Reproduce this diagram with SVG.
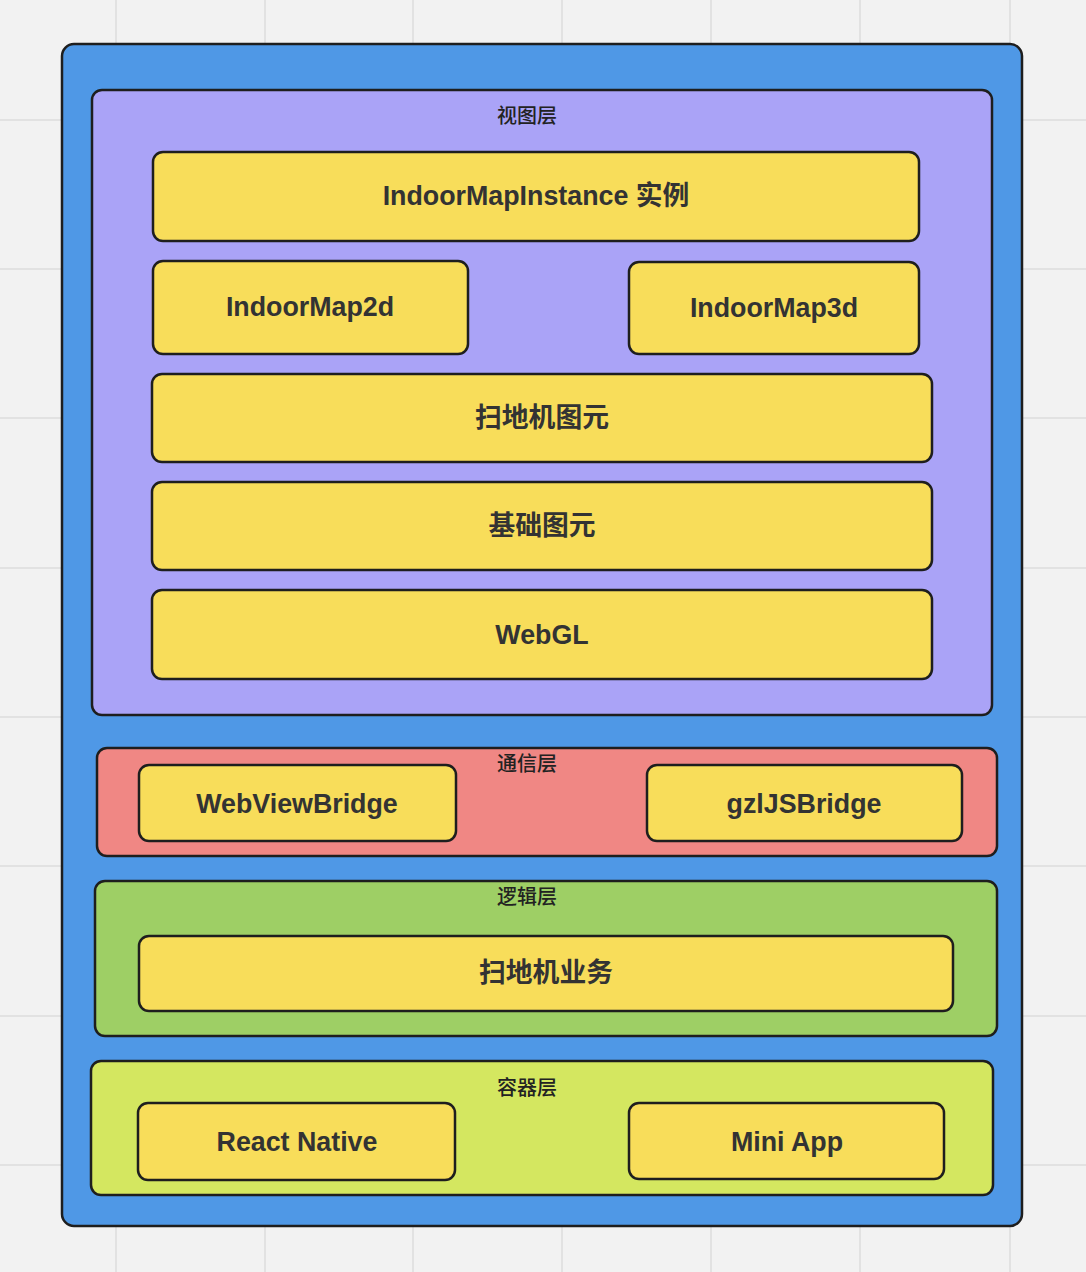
<svg xmlns="http://www.w3.org/2000/svg" width="1086" height="1272" viewBox="0 0 1086 1272">
<defs>
<style>
.grid{stroke:#e2e2e2;stroke-width:2}
.layer{stroke:#1e1e1e;stroke-width:2.5}
.node{fill:#f8dd5a;stroke:#1e1e1e;stroke-width:2.5}
.nt{font-family:"Liberation Sans","Noto Sans CJK SC",sans-serif;font-weight:bold;font-size:26.8px;fill:#333;text-anchor:middle;dominant-baseline:central}
.lt{font-family:"Liberation Sans","Noto Sans CJK SC",sans-serif;font-weight:500;font-size:20px;fill:#222;text-anchor:middle;dominant-baseline:central}
</style>
</defs>
<rect width="1086" height="1272" fill="#f2f2f2"/>
<g id="grid">
<line class="grid" x1="116" y1="0" x2="116" y2="1272"/>
<line class="grid" x1="265" y1="0" x2="265" y2="1272"/>
<line class="grid" x1="413" y1="0" x2="413" y2="1272"/>
<line class="grid" x1="562" y1="0" x2="562" y2="1272"/>
<line class="grid" x1="711" y1="0" x2="711" y2="1272"/>
<line class="grid" x1="860" y1="0" x2="860" y2="1272"/>
<line class="grid" x1="1010" y1="0" x2="1010" y2="1272"/>
<line class="grid" x1="0" y1="120" x2="1086" y2="120"/>
<line class="grid" x1="0" y1="269" x2="1086" y2="269"/>
<line class="grid" x1="0" y1="418" x2="1086" y2="418"/>
<line class="grid" x1="0" y1="568" x2="1086" y2="568"/>
<line class="grid" x1="0" y1="717" x2="1086" y2="717"/>
<line class="grid" x1="0" y1="866" x2="1086" y2="866"/>
<line class="grid" x1="0" y1="1016" x2="1086" y2="1016"/>
<line class="grid" x1="0" y1="1165" x2="1086" y2="1165"/>
</g>
<g id="container">
<rect class="layer" x="62" y="44" width="960" height="1182" rx="12" fill="#4f98e6"/>
</g>
<g id="view-layer">
<rect class="layer" x="92" y="90" width="900" height="625" rx="10" fill="#aaa3f7"/>
<text class="lt" x="527" y="116">视图层</text>
</g>
<g id="n-instance"><rect class="node" x="153" y="152" width="766" height="89" rx="10"/><text class="nt" x="536" y="196">IndoorMapInstance 实例</text></g>
<g id="n-2d"><rect class="node" x="153" y="261" width="315" height="93" rx="10"/><text class="nt" x="310" y="307">IndoorMap2d</text></g>
<g id="n-3d"><rect class="node" x="629" y="262" width="290" height="92" rx="10"/><text class="nt" x="774" y="308">IndoorMap3d</text></g>
<g id="n-robot-prim"><rect class="node" x="152" y="374" width="780" height="88" rx="10"/><text class="nt" x="542" y="418">扫地机图元</text></g>
<g id="n-base-prim"><rect class="node" x="152" y="482" width="780" height="88" rx="10"/><text class="nt" x="542" y="526">基础图元</text></g>
<g id="n-webgl"><rect class="node" x="152" y="590" width="780" height="89" rx="10"/><text class="nt" x="542" y="635">WebGL</text></g>
<g id="comm-layer">
<rect class="layer" x="97" y="748" width="900" height="108" rx="10" fill="#f08784"/>
<text class="lt" x="527" y="764">通信层</text>
</g>
<g id="n-webview"><rect class="node" x="139" y="765" width="317" height="76" rx="10"/><text class="nt" x="297" y="804">WebViewBridge</text></g>
<g id="n-gzl"><rect class="node" x="647" y="765" width="315" height="76" rx="10"/><text class="nt" x="804" y="804">gzlJSBridge</text></g>
<g id="logic-layer">
<rect class="layer" x="95" y="881" width="902" height="155" rx="10" fill="#9ecf65"/>
<text class="lt" x="527" y="897">逻辑层</text>
</g>
<g id="n-robot-biz"><rect class="node" x="139" y="936" width="814" height="75" rx="10"/><text class="nt" x="546" y="973">扫地机业务</text></g>
<g id="host-layer">
<rect class="layer" x="91" y="1061" width="902" height="134" rx="10" fill="#d4e760"/>
<text class="lt" x="527" y="1088">容器层</text>
</g>
<g id="n-rn"><rect class="node" x="138" y="1103" width="317" height="77" rx="10"/><text class="nt" x="297" y="1142">React Native</text></g>
<g id="n-mini"><rect class="node" x="629" y="1103" width="315" height="76" rx="10"/><text class="nt" x="787" y="1142">Mini App</text></g>
<g id="connectors"></g>
</svg>
